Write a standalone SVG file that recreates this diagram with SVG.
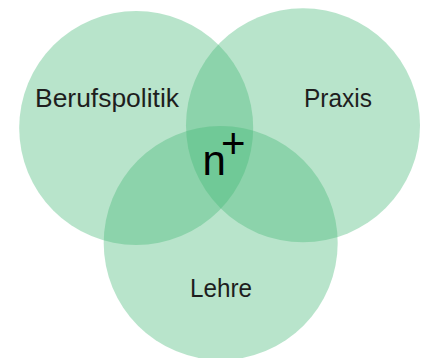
<svg xmlns="http://www.w3.org/2000/svg" width="427" height="358" viewBox="0 0 427 358">
<style>
.c{fill:#44b876;fill-opacity:0.38}
.t{font-family:"Liberation Sans",Arial,sans-serif;font-size:26px;fill:#1e1e1e;text-anchor:middle}
.n{font-family:"Liberation Sans",Arial,sans-serif;fill:#000}
</style>
<rect width="427" height="358" fill="#fff"/>
<g id="berufspolitik"><circle class="c" cx="136.2" cy="128" r="117"/><text class="t" x="107" y="106.5" textLength="144" lengthAdjust="spacingAndGlyphs">Berufspolitik</text></g>
<g id="praxis"><circle class="c" cx="303" cy="125.3" r="117"/><text class="t" x="338" y="106.5" textLength="68" lengthAdjust="spacingAndGlyphs">Praxis</text></g>
<g id="lehre"><circle class="c" cx="220.7" cy="243" r="117"/><text class="t" x="221" y="296.5" textLength="62" lengthAdjust="spacingAndGlyphs">Lehre</text></g>
<g id="center"><text class="n" x="202.5" y="175" font-size="42">n<tspan x="221" y="158" font-size="42">+</tspan></text></g>
<g id="connectors"></g>
</svg>
